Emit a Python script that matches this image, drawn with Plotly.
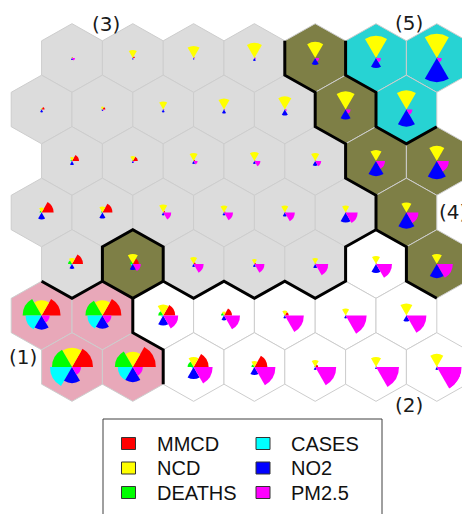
import plotly.graph_objects as go

# ---------------- data ----------------
variables = ["MMCD", "NCD", "DEATHS", "CASES", "NO2", "PM2.5"]
var_colors = ["#ff0000", "#ffff00", "#00ff00", "#00ffff", "#0000ff", "#ff00ff"]

# SOM codebook values (0..1), 7 rows (top to bottom) x 7 columns
mmcd = [
    [.04, .08, .04, .04, .04, .04, .04],
    [.12, .12, .04, .04, .04, .04, .04],
    [.28, .20, .06, .04, .04, .04, .04],
    [.48, .40, .08, .06, .04, .04, .04],
    [.44, .24, .08, .06, .04, .04, .04],
    [.76, .76, .48, .32, .16, .04, .04],
    [.84, .92, .60, .52, .12, .04, .04],
]
ncd = [
    [.04, .32, .48, .60, .64, .88, .96],
    [.06, .12, .32, .44, .52, .72, .76],
    [.16, .20, .32, .36, .32, .44, .60],
    [.20, .24, .32, .28, .28, .28, .40],
    [.24, .40, .28, .20, .24, .32, .40],
    [.60, .60, .44, .16, .20, .28, .48],
    [.76, .60, .40, .24, .28, .40, .52],
]
deaths = [
    [.02, .02, .02, .02, .02, .02, .02],
    [.04, .04, .02, .02, .02, .02, .02],
    [.06, .04, .02, .02, .02, .02, .02],
    [.08, .06, .02, .02, .02, .02, .02],
    [.16, .12, .02, .02, .02, .02, .02],
    [.76, .68, .20, .12, .04, .02, .02],
    [.80, .72, .24, .12, .04, .02, .02],
]
cases = [
    [.02, .02, .02, .02, .02, .02, .02],
    [.02, .02, .02, .02, .02, .02, .02],
    [.04, .02, .02, .02, .02, .02, .02],
    [.04, .04, .02, .02, .02, .02, .02],
    [.08, .08, .02, .02, .02, .02, .02],
    [.64, .60, .08, .04, .02, .02, .02],
    [.88, .60, .08, .04, .02, .02, .02],
]
no2 = [
    [.08, .06, .06, .12, .28, .40, .96],
    [.12, .06, .12, .16, .24, .40, .68],
    [.16, .08, .12, .12, .20, .60, .72],
    [.28, .24, .12, .12, .16, .40, .64],
    [.20, .24, .12, .12, .16, .36, .56],
    [.56, .52, .40, .20, .12, .12, .24],
    [.64, .60, .48, .32, .12, .08, .12],
]
pm25 = [
    [.12, .04, .04, .06, .16, .20, .20],
    [.04, .06, .04, .04, .08, .20, .24],
    [.04, .06, .16, .24, .24, .36, .48],
    [.04, .04, .32, .36, .40, .48, .48],
    [.04, .32, .40, .40, .52, .64, .64],
    [.32, .36, .60, .64, .76, .84, .80],
    [.36, .40, .76, .84, .84, .92, 1.00],
]
series = [mmcd, ncd, deaths, cases, no2, pm25]

# cluster of each node (rows top to bottom)
cluster_map = [
    [3, 3, 3, 3, 4, 5, 5],
    [3, 3, 3, 3, 3, 4, 5],
    [3, 3, 3, 3, 3, 4, 4],
    [3, 3, 3, 3, 3, 3, 4],
    [3, 4, 3, 3, 3, 2, 4],
    [1, 1, 2, 2, 2, 2, 2],
    [1, 1, 2, 2, 2, 2, 2],
]
cluster_colors = {1: "#e8a8b9", 2: "#ffffff", 3: "#dcdcdc", 4: "#7e7f46", 5: "#27d3d3"}
cluster_names = ["(1)", "(2)", "(3)", "(4)", "(5)"]

# ---------------- geometry ----------------
PAGE_W, PAGE_H = 470, 514
OFF = 8                      # default page body margin
FW, FH = PAGE_W - OFF, PAGE_H - OFF
HW = 60.8          # hex width (px)
DY = 51.5          # row spacing (px)
X0, Y0 = 72.0, 58.0
A = DY * 2 / 3     # hex vertex radius
RMAX = 25.0        # pixel radius of value 1
NR, NC = len(cluster_map), len(cluster_map[0])


def center(i, j):
    return X0 + HW * j - (HW / 2 if i % 2 else 0), Y0 + DY * i


def hex_vertices(cx, cy):
    w2 = HW / 2
    return [(cx, cy - A), (cx + w2, cy - A / 2), (cx + w2, cy + A / 2),
            (cx, cy + A), (cx - w2, cy + A / 2), (cx - w2, cy - A / 2)]


fig = go.Figure()
shapes = []
edges = {}
for i in range(NR):
    for j in range(NC):
        cx, cy = center(i, j)
        vs = hex_vertices(cx, cy)
        path = "M " + " L ".join(f"{x:.2f},{y:.2f}" for x, y in vs) + " Z"
        shapes.append(dict(type="path", path=path, xref="x", yref="y", layer="below",
                           fillcolor=cluster_colors[cluster_map[i][j]],
                           line=dict(color="#cdcdcd", width=1)))
        for k in range(6):
            p = (round(vs[k][0], 1), round(vs[k][1], 1))
            q = (round(vs[(k + 1) % 6][0], 1), round(vs[(k + 1) % 6][1], 1))
            key = tuple(sorted([p, q]))
            edges.setdefault(key, []).append(cluster_map[i][j])

# cluster boundary edges, chained into polylines
bedges = [k for k, v in edges.items() if len(v) == 2 and v[0] != v[1]]
adj = {}
for e in bedges:
    adj.setdefault(e[0], []).append(e)
    adj.setdefault(e[1], []).append(e)
used = set()
bx, by = [], []
starts = [v for v in adj if len(adj[v]) % 2 == 1] + list(adj.keys())
for s in starts:
    while True:
        nxt = [e for e in adj[s] if e not in used]
        if not nxt:
            break
        cur = s
        bx.append(cur[0]); by.append(cur[1])
        while True:
            cand = [e for e in adj[cur] if e not in used]
            if not cand:
                break
            e = cand[0]
            used.add(e)
            cur = e[1] if e[0] == cur else e[0]
            bx.append(cur[0]); by.append(cur[1])
        bx.append(None); by.append(None)

fig.add_trace(go.Scatter(x=bx, y=by, mode="lines", xaxis="x", yaxis="y",
                         line=dict(color="black", width=3), hoverinfo="skip",
                         showlegend=False))

# segment (rose) plots per node
theta = [30, 90, 150, 210, 270, 330]
polars = {}
n = 0
for i in range(NR):
    for j in range(NC):
        n += 1
        cx, cy = center(i, j)
        fx, fy = cx - OFF, cy - OFF
        name = "polar" if n == 1 else f"polar{n}"
        polars[name] = dict(
            domain=dict(x=[(fx - RMAX) / FW, (fx + RMAX) / FW],
                        y=[1 - (fy + RMAX) / FH, 1 - (fy - RMAX) / FH]),
            bgcolor="rgba(0,0,0,0)", bargap=0, hole=0,
            radialaxis=dict(visible=False, range=[0, 1]),
            angularaxis=dict(visible=False, direction="counterclockwise", rotation=0),
        )
        fig.add_trace(go.Barpolar(
            r=[s[i][j] for s in series], theta=theta, width=[60] * 6,
            marker=dict(color=var_colors, line=dict(width=0)),
            subplot=name, showlegend=False, hoverinfo="skip"))

# cluster labels
label_pos = {"(1)": (23, 357), "(2)": (409, 405), "(3)": (106, 24),
             "(4)": (453, 212), "(5)": (409, 23)}
annotations = []
for lab in cluster_names:
    x, y = label_pos[lab]
    annotations.append(dict(x=x, y=y, xref="x", yref="y", text=lab, showarrow=False,
                            font=dict(family="DejaVu Sans", size=20, color="#1a1a1a"),
                            xanchor="center", yanchor="middle"))

# legend box
shapes.append(dict(type="rect", xref="x", yref="y", x0=103, y0=419, x1=382, y1=520,
                   line=dict(color="#404040", width=1), fillcolor="white", layer="above"))
leg_cols = [128.5, 263.0]
leg_rows = [443.5, 468.0, 492.5]
for k, (vname, col) in enumerate(zip(variables, var_colors)):
    cxl = leg_cols[k // 3]
    cyl = leg_rows[k % 3]
    shapes.append(dict(type="rect", xref="x", yref="y", x0=cxl - 7, x1=cxl + 7,
                       y0=cyl - 6, y1=cyl + 6, fillcolor=col,
                       line=dict(color="#333333", width=1), layer="above"))
    annotations.append(dict(x=cxl + 26, y=cyl, xref="x", yref="y", text=vname,
                            showarrow=False, xanchor="left", yanchor="middle",
                            font=dict(family="Liberation Sans", size=20, color="#111111")))

fig.update_layout(
    width=FW, height=FH, autosize=False,
    margin=dict(l=0, r=0, t=0, b=0, pad=0),
    paper_bgcolor="white", plot_bgcolor="white",
    xaxis=dict(range=[OFF, PAGE_W], visible=False, fixedrange=True, domain=[0, 1]),
    yaxis=dict(range=[PAGE_H, OFF], visible=False, fixedrange=True, domain=[0, 1]),
    shapes=shapes, annotations=annotations, showlegend=False,
    **polars,
)
fig.write_html("out.html")
